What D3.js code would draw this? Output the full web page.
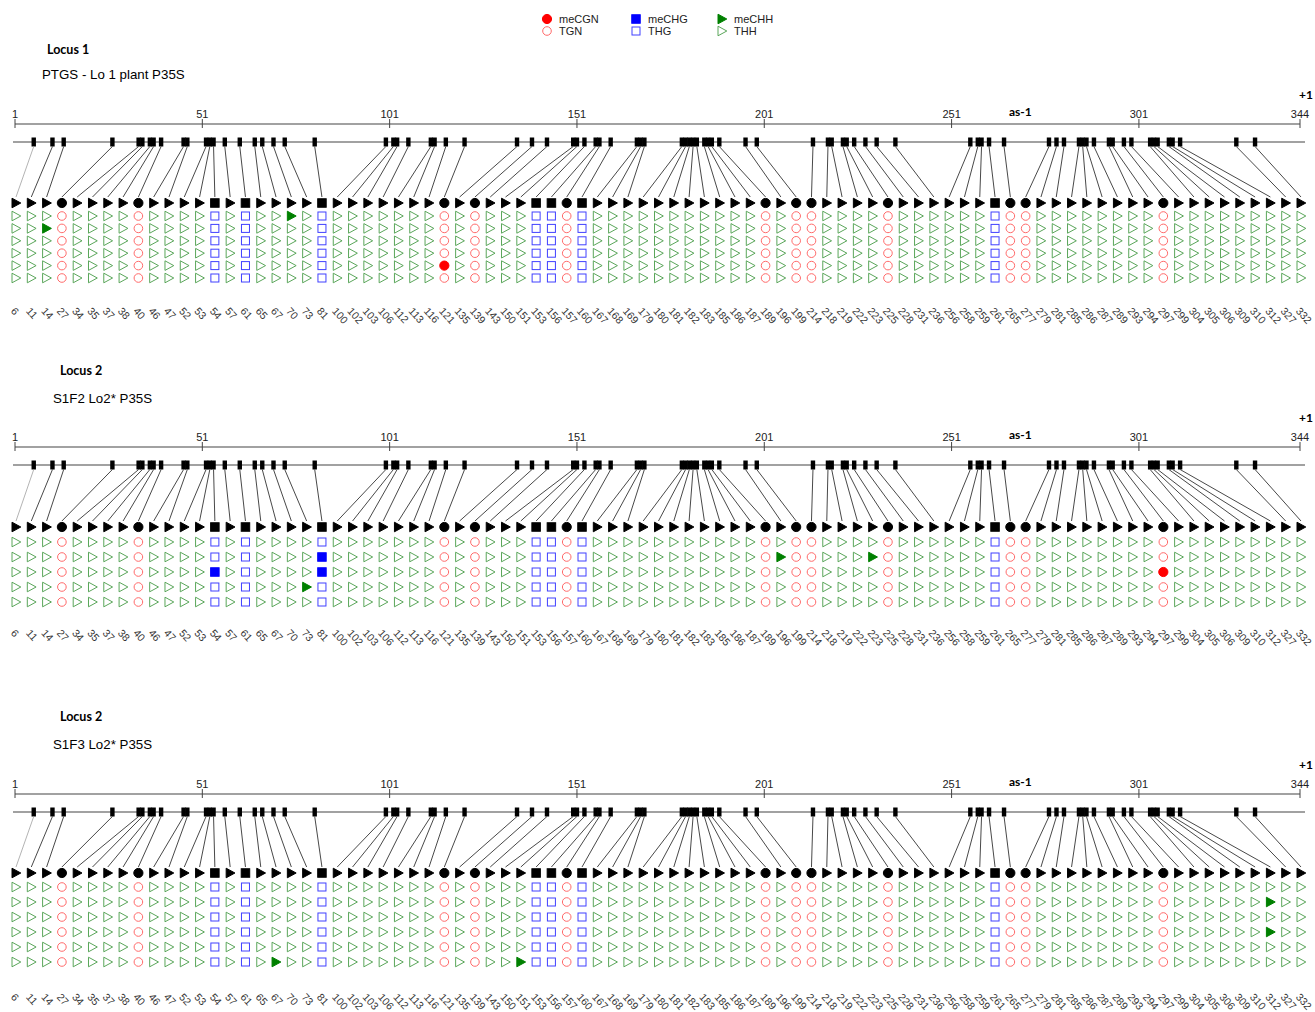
<!DOCTYPE html>
<html>
<head>
<meta charset="utf-8">
<script src="https://cdn.jsdelivr.net/npm/d3@7"></script>
<style>
  body { margin: 0; background: #fff; }
  svg { display: block; }
</style>
</head>
<body>
<div id="chart"></div>
<script>
// cytosine positions in the analysed fragment and their sequence context
const sitePositions = [6, 11, 14, 27, 34, 35, 37, 38, 40, 46, 47, 52, 53, 54, 57, 61, 65, 67, 70, 73,
  81, 100, 102, 103, 106, 112, 113, 116, 121, 135, 139, 143, 150, 151, 153, 156, 157, 160, 167, 168,
  169, 179, 180, 181, 182, 183, 185, 186, 187, 189, 196, 199, 214, 218, 219, 222, 223, 225, 228, 231,
  236, 256, 258, 259, 261, 265, 277, 279, 281, 285, 286, 287, 289, 293, 294, 297, 299, 304, 305, 306,
  309, 310, 312, 327, 332];
const cgSites = [27, 40, 121, 139, 157, 189, 199, 214, 225, 265, 277, 297];
const chgSites = [54, 61, 81, 153, 156, 160, 261];
const rulerTicks = [1, 51, 101, 151, 201, 251, 301, 344];

const panelTitles = ["Locus 1", "Locus 2", "Locus 2"];
const panelSubtitles = ["PTGS - Lo 1 plant P35S", "S1F2 Lo2* P35S", "S1F3 Lo2* P35S"];
const cloneCounts = [6, 5, 6];
// methylated cytosines: [clone row (1-based), position]
const locus1Methylated = [[1, 70], [2, 14], [5, 121]];
const locus2Methylated = [[2, 81], [2, 196], [2, 223], [3, 54], [3, 81], [3, 297], [4, 73]];
const locus3Methylated = [[2, 312], [4, 312], [6, 67], [6, 151]];

const legendItems = [
  {ctx: "CG", filled: true, text: "meCGN"}, {ctx: "CG", filled: false, text: "TGN"},
  {ctx: "CHG", filled: true, text: "meCHG"}, {ctx: "CHG", filled: false, text: "THG"},
  {ctx: "CHH", filled: true, text: "meCHH"}, {ctx: "CHH", filled: false, text: "THH"}
];

const W = 1315, H = 1012;
const svg = d3.select("#chart").append("svg").attr("width", W).attr("height", H);

const contextOf = p => cgSites.includes(p) ? "CG" : (chgSites.includes(p) ? "CHG" : "CHH");

const x = d3.scaleLinear().domain([1, 344]).range([15, 1300]);
const col = d3.scalePoint().domain(sitePositions).range([16, 1301]);

const fillColor = {CG: "#ff0000", CHG: "#0000ff", CHH: "#008000"};
const openColor = {CG: "#ff6a6a", CHG: "#4040ff", CHH: "#5aa65a"};
const triPath = "M-4,-4.8L4.8,0L-4,4.8Z";

function drawSymbol(g, ctx, cx, cy, fill, stroke) {
  if (ctx === "CG") {
    g.append("circle").attr("cx", cx).attr("cy", cy).attr("r", fill === "none" ? 4.3 : 4.6)
      .attr("fill", fill).attr("stroke", stroke).attr("stroke-width", 1);
  } else if (ctx === "CHG") {
    const s = fill === "none" ? 8 : 8.5;
    g.append("rect").attr("x", cx - s / 2).attr("y", cy - s / 2).attr("width", s).attr("height", s)
      .attr("fill", fill).attr("stroke", stroke).attr("stroke-width", 1);
  } else {
    g.append("path").attr("d", triPath).attr("transform", `translate(${cx},${cy})`)
      .attr("fill", fill).attr("stroke", stroke).attr("stroke-width", 1);
  }
}

// legend
const legX = [547, 547, 636, 636, 722, 722], legY = [19, 31, 19, 31, 19, 31];
legendItems.forEach((d, i) => {
  const g = svg.append("g");
  if (d.filled) drawSymbol(g, d.ctx, legX[i], legY[i], fillColor[d.ctx], fillColor[d.ctx]);
  else drawSymbol(g, d.ctx, legX[i], legY[i], "none", openColor[d.ctx]);
  g.append("text").attr("x", legX[i] + 12).attr("y", legY[i] + 4)
    .attr("font-family", "Liberation Sans, Arial, sans-serif").attr("font-size", 11)
    .attr("fill", "#222").text(d.text);
});

const layout = [
  {titleX: 47, titleY: 54, subX: 42, subY: 79, rulerY: 124, headerY: 203, rowY0: 216, rowStep: 12.4, labelY: 309, methyl: locus1Methylated},
  {titleX: 60, titleY: 375, subX: 53, subY: 403, rulerY: 447, headerY: 527, rowY0: 542, rowStep: 15, labelY: 631, methyl: locus2Methylated},
  {titleX: 60, titleY: 721, subX: 53, subY: 749, rulerY: 794, headerY: 873, rowY0: 887, rowStep: 15, labelY: 995, methyl: locus3Methylated}
];

layout.forEach((L, pi) => {
  const g = svg.append("g");
  const seqY = L.rulerY + 18;
  const methylSet = new Set(L.methyl.map(d => d[0] + "-" + d[1]));

  g.append("text").attr("x", L.titleX).attr("y", L.titleY)
    .attr("font-family", "Lato, 'Open Sans', sans-serif").attr("font-weight", "bold").attr("font-size", 12.5)
    .text(panelTitles[pi]);
  g.append("text").attr("x", L.subX).attr("y", L.subY)
    .attr("font-family", "Liberation Sans, Arial, sans-serif").attr("font-size", 13.3)
    .text(panelSubtitles[pi]);
  g.append("text").attr("x", 1299).attr("y", L.rulerY - 25)
    .attr("font-family", "Lato, sans-serif").attr("font-weight", "bold").attr("font-size", 12)
    .text("+1");
  g.append("text").attr("x", 1009).attr("y", L.rulerY - 8)
    .attr("font-family", "Lato, sans-serif").attr("font-weight", "bold").attr("font-size", 12)
    .text("as-1");

  // ruler
  g.append("line").attr("x1", x(1)).attr("x2", x(344)).attr("y1", L.rulerY).attr("y2", L.rulerY)
    .attr("stroke", "#444").attr("stroke-width", 1.2);
  rulerTicks.forEach(t => {
    g.append("line").attr("x1", x(t)).attr("x2", x(t)).attr("y1", L.rulerY - 5).attr("y2", L.rulerY + 4)
      .attr("stroke", "#444").attr("stroke-width", 1);
    g.append("text").attr("x", x(t)).attr("y", L.rulerY - 6).attr("text-anchor", "middle")
      .attr("font-family", "Liberation Sans, Arial, sans-serif").attr("font-size", 11)
      .attr("fill", "#222").text(t);
  });

  // sequence line with site marks
  g.append("line").attr("x1", 13).attr("x2", 1305).attr("y1", seqY).attr("y2", seqY)
    .attr("stroke", "#444").attr("stroke-width", 1.2);
  g.selectAll(".mark").data(sitePositions).enter().append("rect")
    .attr("x", d => x(d) - 2.2).attr("y", seqY - 4.5).attr("width", 4.4).attr("height", 9)
    .attr("fill", "#000");

  // connectors
  g.selectAll(".conn").data(sitePositions).enter().append("line")
    .attr("x1", d => x(d)).attr("y1", seqY + 4.5)
    .attr("x2", d => col(d)).attr("y2", L.headerY - 6)
    .attr("stroke", (d, i) => i === 0 ? "#aaa" : "#333").attr("stroke-width", 0.9);

  // header row
  sitePositions.forEach(p => drawSymbol(g, contextOf(p), col(p), L.headerY, "#000", "#000"));

  // clone rows
  for (let r = 1; r <= cloneCounts[pi]; r++) {
    const cy = L.rowY0 + (r - 1) * L.rowStep;
    sitePositions.forEach(p => {
      const ctx = contextOf(p);
      if (methylSet.has(r + "-" + p)) drawSymbol(g, ctx, col(p), cy, fillColor[ctx], fillColor[ctx]);
      else drawSymbol(g, ctx, col(p), cy, "none", openColor[ctx]);
    });
  }

  // position labels
  g.selectAll(".lab").data(sitePositions).enter().append("text")
    .attr("transform", d => `translate(${col(d) - 3},${L.labelY}) rotate(48)`)
    .attr("dy", "0.35em")
    .attr("font-family", "Liberation Sans, Arial, sans-serif").attr("font-size", 10.5)
    .attr("fill", "#333").text(d => d);
});
</script>
</body>
</html>
